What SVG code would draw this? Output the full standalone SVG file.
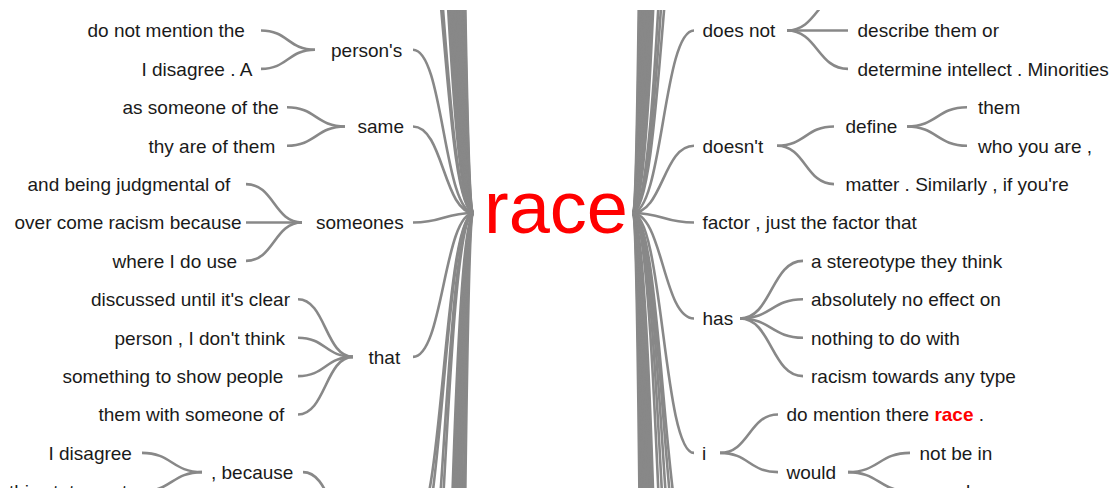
<svg xmlns="http://www.w3.org/2000/svg" width="1119" height="488" viewBox="0 0 1119 488">
  <defs>
    <clipPath id="view">
      <rect x="0" y="10" width="1119" height="478"/>
    </clipPath>
    <style>
      .link { fill: none; stroke: #888888; stroke-width: 2.6; }
      .w { font-family: "Liberation Sans", Arial, sans-serif; font-size: 19px; fill: #1a1a1a; }
      .root { font-family: "Liberation Sans", Arial, sans-serif; font-size: 74px; fill: #ff0000; }
      .hit { fill: #ff0000; font-weight: bold; }
    </style>
  </defs>
  <rect width="1119" height="488" fill="#ffffff"/>
  <g clip-path="url(#view)">
    <!-- connectors -->
    <g id="links">
      <!-- root, left side: long branches to off-screen prefixes above -->
      <path class="link" d="M474 213C443.5 213 443.5 -142 413 -142"/>
      <path class="link" d="M474 213C443.5 213 443.5 -182 413 -182"/>
      <path class="link" d="M474 213C443.5 213 443.5 -364 413 -364"/>
      <path class="link" d="M474 213C443.5 213 443.5 -437 413 -437"/>
      <path class="link" d="M474 213C443.5 213 443.5 -507 413 -507"/>
      <path class="link" d="M474 213C443.5 213 443.5 -607 413 -607"/>
      <path class="link" d="M474 213C443.5 213 443.5 -727 413 -727"/>
      <path class="link" d="M474 213C443.5 213 443.5 -887 413 -887"/>
      <path class="link" d="M474 213C443.5 213 443.5 -1086 413 -1086"/>
      <path class="link" d="M474 213C443.5 213 443.5 -1387 413 -1387"/>
      <path class="link" d="M474 213C443.5 213 443.5 -1739 413 -1739"/>
      <path class="link" d="M474 213C443.5 213 443.5 -2387 413 -2387"/>
      <path class="link" d="M474 213C443.5 213 443.5 -3129 413 -3129"/>
      <path class="link" d="M474 213C443.5 213 443.5 -3987 413 -3987"/>
      <path class="link" d="M474 213C443.5 213 443.5 -4897 413 -4897"/>
      <path class="link" d="M474 213C443.5 213 443.5 -5987 413 -5987"/>
      <path class="link" d="M474 213C443.5 213 443.5 -7037 413 -7037"/>
      <!-- root, left side: long branches to off-screen prefixes below -->
      <path class="link" d="M474 213C443.5 213 443.5 529.7 413 529.7"/>
      <path class="link" d="M474 213C443.5 213 443.5 558 413 558"/>
      <path class="link" d="M474 213C443.5 213 443.5 683 413 683"/>
      <path class="link" d="M474 213C443.5 213 443.5 773 413 773"/>
      <path class="link" d="M474 213C443.5 213 443.5 1413 413 1413"/>
      <path class="link" d="M474 213C443.5 213 443.5 1613 413 1613"/>
      <path class="link" d="M474 213C443.5 213 443.5 1913 413 1913"/>
      <path class="link" d="M474 213C443.5 213 443.5 2313 413 2313"/>
      <path class="link" d="M474 213C443.5 213 443.5 2813 413 2813"/>
      <path class="link" d="M474 213C443.5 213 443.5 3513 413 3513"/>
      <path class="link" d="M474 213C443.5 213 443.5 4713 413 4713"/>
      <path class="link" d="M474 213C443.5 213 443.5 6713 413 6713"/>
      <path class="link" d="M474 213C443.5 213 443.5 10013 413 10013"/>
      <!-- root, left side: visible prefixes -->
      <path class="link" d="M474 213C443.5 213 443.5 49.7 413 49.7"/>
      <path class="link" d="M474 213C443.5 213 443.5 126.5 413 126.5"/>
      <path class="link" d="M474 213C443.5 213 443.5 222.5 413 222.5"/>
      <path class="link" d="M474 213C443.5 213 443.5 356.9 413 356.9"/>
      <!-- second level, left -->
      <path class="link" d="M315 49.7C288 49.7 288 30.5 261 30.5"/>
      <path class="link" d="M315 49.7C288 49.7 288 68.9 261 68.9"/>
      <path class="link" d="M345 126.5C316 126.5 316 107.3 287 107.3"/>
      <path class="link" d="M345 126.5C316 126.5 316 145.7 287 145.7"/>
      <path class="link" d="M302 222.5C274 222.5 274 184.1 246 184.1"/>
      <path class="link" d="M302 222.5C274 222.5 274 222.5 246 222.5"/>
      <path class="link" d="M302 222.5C274 222.5 274 260.9 246 260.9"/>
      <path class="link" d="M353 356.9C325.5 356.9 325.5 299.3 298 299.3"/>
      <path class="link" d="M353 356.9C325.5 356.9 325.5 337.7 298 337.7"/>
      <path class="link" d="M353 356.9C325.5 356.9 325.5 376.1 298 376.1"/>
      <path class="link" d="M353 356.9C325.5 356.9 325.5 414.5 298 414.5"/>
      <path class="link" d="M358 529.7C330.5 529.7 330.5 472.1 303 472.1"/>
      <path class="link" d="M202 472.1C172 472.1 172 452.9 142 452.9"/>
      <path class="link" d="M202 472.1C172 472.1 172 491.3 142 491.3"/>

      <!-- root, right side: long branches to off-screen continuations above -->
      <path class="link" d="M632 213C663 213 663 -167 694 -167"/>
      <path class="link" d="M632 213C663 213 663 -257 694 -257"/>
      <path class="link" d="M632 213C663 213 663 -364 694 -364"/>
      <path class="link" d="M632 213C663 213 663 -727 694 -727"/>
      <path class="link" d="M632 213C663 213 663 -887 694 -887"/>
      <path class="link" d="M632 213C663 213 663 -1087 694 -1087"/>
      <path class="link" d="M632 213C663 213 663 -1387 694 -1387"/>
      <path class="link" d="M632 213C663 213 663 -1737 694 -1737"/>
      <path class="link" d="M632 213C663 213 663 -2287 694 -2287"/>
      <path class="link" d="M632 213C663 213 663 -3087 694 -3087"/>
      <path class="link" d="M632 213C663 213 663 -4287 694 -4287"/>
      <path class="link" d="M632 213C663 213 663 -5787 694 -5787"/>
      <path class="link" d="M632 213C663 213 663 -7787 694 -7787"/>
      <path class="link" d="M632 213C663 213 663 -10787 694 -10787"/>
      <path class="link" d="M632 213C663 213 663 -13787 694 -13787"/>
      <!-- root, right side: long branches to off-screen continuations below -->
      <path class="link" d="M632 213C663 213 663 568 694 568"/>
      <path class="link" d="M632 213C663 213 663 613 694 613"/>
      <path class="link" d="M632 213C663 213 663 693 694 693"/>
      <path class="link" d="M632 213C663 213 663 813 694 813"/>
      <path class="link" d="M632 213C663 213 663 993 694 993"/>
      <path class="link" d="M632 213C663 213 663 1513 694 1513"/>
      <path class="link" d="M632 213C663 213 663 1763 694 1763"/>
      <path class="link" d="M632 213C663 213 663 2013 694 2013"/>
      <path class="link" d="M632 213C663 213 663 2413 694 2413"/>
      <path class="link" d="M632 213C663 213 663 2913 694 2913"/>
      <path class="link" d="M632 213C663 213 663 3613 694 3613"/>
      <path class="link" d="M632 213C663 213 663 4713 694 4713"/>
      <path class="link" d="M632 213C663 213 663 6213 694 6213"/>
      <path class="link" d="M632 213C663 213 663 8213 694 8213"/>
      <path class="link" d="M632 213C663 213 663 11213 694 11213"/>
      <path class="link" d="M632 213C663 213 663 15213 694 15213"/>
      <!-- root, right side: visible continuations -->
      <path class="link" d="M632 213C663 213 663 30.5 694 30.5"/>
      <path class="link" d="M632 213C663 213 663 145.7 694 145.7"/>
      <path class="link" d="M632 213C663 213 663 222.5 694 222.5"/>
      <path class="link" d="M632 213C663 213 663 318.5 694 318.5"/>
      <path class="link" d="M632 213C663 213 663 452.9 694 452.9"/>
      <!-- second and third level, right -->
      <path class="link" d="M787 30.5C817.5 30.5 817.5 -7.9 848 -7.9"/>
      <path class="link" d="M787 30.5C817.5 30.5 817.5 30.5 848 30.5"/>
      <path class="link" d="M787 30.5C817.5 30.5 817.5 68.9 848 68.9"/>
      <path class="link" d="M777 145.7C805.5 145.7 805.5 126.5 834 126.5"/>
      <path class="link" d="M777 145.7C805.5 145.7 805.5 184.1 834 184.1"/>
      <path class="link" d="M907 126.5C937 126.5 937 107.3 967 107.3"/>
      <path class="link" d="M907 126.5C937 126.5 937 145.7 967 145.7"/>
      <path class="link" d="M740 318.5C771.5 318.5 771.5 260.9 803 260.9"/>
      <path class="link" d="M740 318.5C771.5 318.5 771.5 299.3 803 299.3"/>
      <path class="link" d="M740 318.5C771.5 318.5 771.5 337.7 803 337.7"/>
      <path class="link" d="M740 318.5C771.5 318.5 771.5 376.1 803 376.1"/>
      <path class="link" d="M720 452.9C749 452.9 749 414.5 778 414.5"/>
      <path class="link" d="M720 452.9C749 452.9 749 472.1 778 472.1"/>
      <path class="link" d="M848 472.1C879 472.1 879 452.9 910 452.9"/>
      <path class="link" d="M848 472.1C879 472.1 879 491.3 910 491.3"/>
    </g>

    <!-- root word -->
    <g id="n-race"><text class="root" x="484" y="233">race</text></g>

    <!-- left side: words preceding the root -->
    <g id="n-persons"><text class="w" x="331" y="56.5">person's</text></g>
    <g id="n-do-not-mention-the"><text class="w" x="87.5" y="37.3">do not mention the</text></g>
    <g id="n-i-disagree-a"><text class="w" x="141.5" y="75.7">I disagree . A</text></g>
    <g id="n-same"><text class="w" x="357.5" y="133.3">same</text></g>
    <g id="n-as-someone-of-the"><text class="w" x="122.5" y="114.1">as someone of the</text></g>
    <g id="n-thy-are-of-them"><text class="w" x="148.5" y="152.5">thy are of them</text></g>
    <g id="n-someones"><text class="w" x="316" y="229.3">someones</text></g>
    <g id="n-and-being-judgmental-of"><text class="w" x="27.5" y="190.9">and being judgmental of</text></g>
    <g id="n-over-come-racism-because"><text class="w" x="14.5" y="229.3">over come racism because</text></g>
    <g id="n-where-i-do-use"><text class="w" x="112.5" y="267.7">where I do use</text></g>
    <g id="n-that"><text class="w" x="368.5" y="363.7">that</text></g>
    <g id="n-discussed-until-its-clear"><text class="w" x="91" y="306.1">discussed until it's clear</text></g>
    <g id="n-person-i-dont-think"><text class="w" x="114.5" y="344.5">person , I don't think</text></g>
    <g id="n-something-to-show-people"><text class="w" x="62.5" y="382.9">something to show people</text></g>
    <g id="n-them-with-someone-of"><text class="w" x="98.5" y="421.3">them with someone of</text></g>
    <g id="n-because"><text class="w" x="211" y="478.9">, because</text></g>
    <g id="n-i-disagree"><text class="w" x="48.5" y="459.7">I disagree</text></g>
    <g id="n-this-statement"><text class="w" x="9" y="498.1">this statement</text></g>

    <!-- right side: words following the root -->
    <g id="n-does-not"><text class="w" x="702.5" y="37.3">does not</text></g>
    <g id="n-describe-them-or"><text class="w" x="857.5" y="37.3">describe them or</text></g>
    <g id="n-determine-intellect"><text class="w" x="857.5" y="75.7">determine intellect . Minorities</text></g>
    <g id="n-doesnt"><text class="w" x="702.5" y="152.5">doesn't</text></g>
    <g id="n-define"><text class="w" x="845.5" y="133.3">define</text></g>
    <g id="n-them"><text class="w" x="978" y="114.1">them</text></g>
    <g id="n-who-you-are"><text class="w" x="978" y="152.5">who you are ,</text></g>
    <g id="n-matter-similarly"><text class="w" x="845.5" y="190.9">matter . Similarly , if you're</text></g>
    <g id="n-factor"><text class="w" x="702.5" y="229.3">factor , just the factor that</text></g>
    <g id="n-has"><text class="w" x="702.5" y="325.3">has</text></g>
    <g id="n-a-stereotype"><text class="w" x="811" y="267.7">a stereotype they think</text></g>
    <g id="n-absolutely"><text class="w" x="811" y="306.1">absolutely no effect on</text></g>
    <g id="n-nothing"><text class="w" x="811" y="344.5">nothing to do with</text></g>
    <g id="n-racism-towards"><text class="w" x="811" y="382.9">racism towards any type</text></g>
    <g id="n-i"><text class="w" x="702" y="459.7">i</text></g>
    <g id="n-do-mention"><text class="w" x="786.5" y="421.3">do mention there <tspan class="hit">race</tspan> .</text></g>
    <g id="n-would"><text class="w" x="786.5" y="478.9">would</text></g>
    <g id="n-not-be-in"><text class="w" x="919.5" y="459.7">not be in</text></g>
    <g id="n-would-2"><text class="w" x="919.5" y="498.1">even be</text></g>
  </g>
</svg>
